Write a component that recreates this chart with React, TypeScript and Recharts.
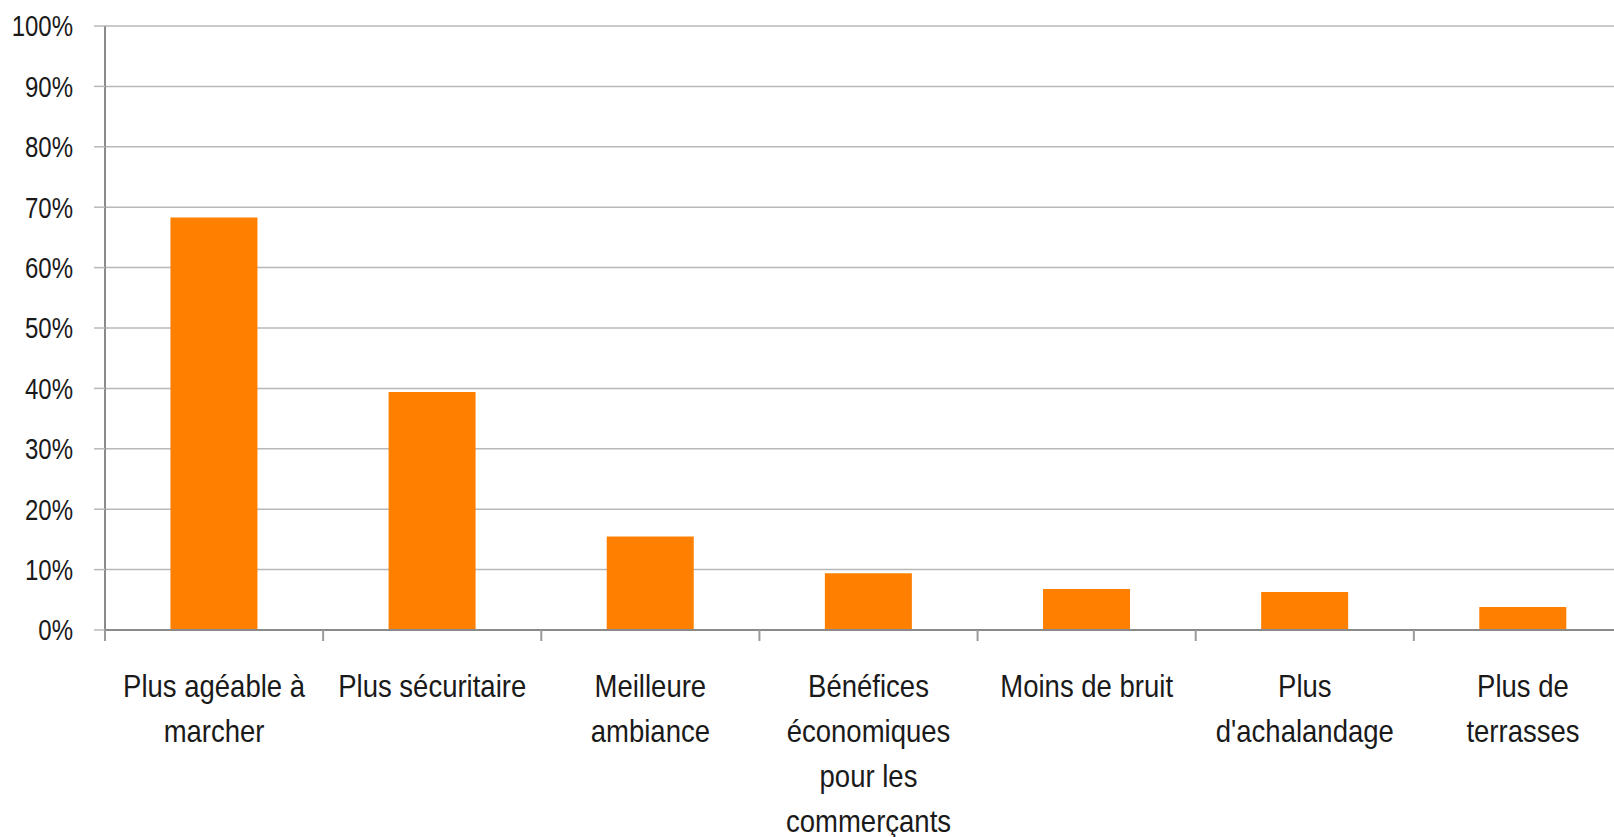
import React from "react";
import { BarChart, Bar, XAxis, YAxis, CartesianGrid } from "recharts";

const categories = [
  "Plus agéable à\nmarcher",
  "Plus sécuritaire",
  "Meilleure\nambiance",
  "Bénéfices\néconomiques\npour les\ncommerçants",
  "Moins de bruit",
  "Plus\nd'achalandage",
  "Plus de\nterrasses",
];
const values = [0.683, 0.394, 0.155, 0.094, 0.068, 0.063, 0.038];
const yTicks = [0, 0.1, 0.2, 0.3, 0.4, 0.5, 0.6, 0.7, 0.8, 0.9, 1];

const data = categories.map((c, i) => ({ name: c, value: values[i] }));

const FONT = "'Liberation Sans', Arial, sans-serif";

const XTick = (props: any) => {
  const { x, y, payload } = props;
  const off = payload && typeof payload.offset === "number" ? payload.offset : 0;
  const lines = String(payload.value).split("\n");
  return (
    <g>
      <line x1={x - off} x2={x - off} y1={y - 11} y2={y} stroke="#9a9a9a" strokeWidth={2} />
      <g transform={`translate(${x},${y + 56})`}>
        <text transform="scale(0.86,1)" textAnchor="middle" fontSize={32} fill="#1a1a1a" fontFamily={FONT}>
          {lines.map((l, i) => (
            <tspan key={i} x={0} dy={i === 0 ? 0 : 45}>
              {l}
            </tspan>
          ))}
        </text>
      </g>
    </g>
  );
};

const YTick = (props: any) => {
  const { x, y, payload } = props;
  return (
    <g transform={`translate(${x},${y})`}>
      <text transform="scale(0.8,1)" textAnchor="end" dominantBaseline="central" fontSize={30} fill="#1a1a1a" fontFamily={FONT}>
        {Math.round(payload.value * 100)}%
      </text>
    </g>
  );
};

export default function App() {
  return (
    <div style={{ position: "absolute", left: 0, top: 0, width: 1614, height: 837, overflow: "hidden", background: "#fff" }}>
      <BarChart
        width={1632}
        height={837}
        data={data}
        margin={{ top: 26, right: 0, bottom: 0, left: 0 }}
        barCategoryGap="30%"
      >
        <CartesianGrid vertical={false} horizontal={true} stroke="#b8b8b8" strokeWidth={1.5} />
        <YAxis
          domain={[0, 1]}
          ticks={yTicks}
          width={105}
          tickSize={11}
          tickMargin={21}
          tick={<YTick />}
          axisLine={{ stroke: "#8a8a8a", strokeWidth: 2 }}
          tickLine={{ stroke: "#b8b8b8", strokeWidth: 1.5 }}
          interval={0}
        />
        <XAxis
          dataKey="name"
          height={207}
          interval={0}
          tickSize={11}
          tickMargin={0}
          tick={<XTick />}
          tickLine={false}
          axisLine={{ stroke: "#8a8a8a", strokeWidth: 2 }}
        />
        <Bar dataKey="value" fill="#FF8000" isAnimationActive={false} />
      </BarChart>
    </div>
  );
}
